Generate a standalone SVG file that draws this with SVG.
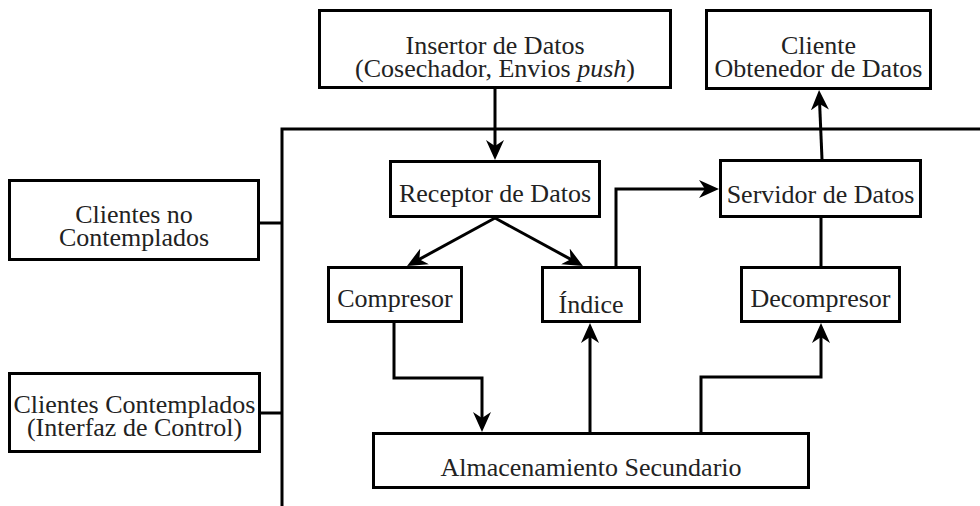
<svg xmlns="http://www.w3.org/2000/svg" width="980" height="506" viewBox="0 0 980 506">
  <style>
    .box { fill: #fff; stroke: #000; stroke-width: 3; }
    .lbl { font-family: "Liberation Serif", "Times New Roman", serif; font-size: 26px; fill: #222; text-anchor: middle; }
    .wire { fill: none; stroke: #000; stroke-width: 3; }
    .arrow { marker-end: url(#head); }
  </style>
  <defs>
    <marker id="head" markerUnits="userSpaceOnUse" markerWidth="20" markerHeight="20" viewBox="0 0 20 20" refX="14" refY="10" orient="auto">
      <path d="M20,10 L0,1 L6,10 L0,19 Z" fill="#000"/>
    </marker>
  </defs>

  <rect width="980" height="506" fill="#fff"/>

  <!-- connectors -->
  <g id="connectors">
    <!-- system boundary -->
    <path class="wire" d="M980,129 H282 V506"/>
    <path class="wire" d="M259,223 H282"/>
    <path class="wire" d="M261,413 H282"/>
    <path class="wire arrow" d="M495,89 V154"/>
    <path class="wire arrow" d="M495,218 L412.3,263.1"/>
    <path class="wire arrow" d="M495,218 L577.7,263.1"/>
    <path class="wire arrow" d="M616,266 V189 H713"/>
    <path class="wire arrow" d="M822,159 L819.3,96"/>
    <path class="wire" d="M821,218 V266"/>
    <path class="wire arrow" d="M394,323 V378 H482 V426"/>
    <path class="wire arrow" d="M590,432 V329"/>
    <path class="wire arrow" d="M701,432 V377 H821 V329"/>
  </g>

  <g id="insertor">
    <rect class="box" x="319.5" y="10.5" width="351" height="77"/>
    <text class="lbl" x="495" y="54">Insertor de Datos</text>
    <text class="lbl" x="495" y="77">(Cosechador, Envios <tspan font-style="italic">push</tspan>)</text>
  </g>

  <g id="cliente-obtenedor">
    <rect class="box" x="706.5" y="10.5" width="224" height="78"/>
    <text class="lbl" x="818.5" y="54">Cliente</text>
    <text class="lbl" x="818.5" y="77">Obtenedor de Datos</text>
  </g>

  <g id="clientes-no-contemplados">
    <rect class="box" x="9.5" y="180.5" width="249" height="79"/>
    <text class="lbl" x="134" y="223">Clientes no</text>
    <text class="lbl" x="134" y="246">Contemplados</text>
  </g>

  <g id="clientes-contemplados">
    <rect class="box" x="9.5" y="373.5" width="250" height="78"/>
    <text class="lbl" x="134.5" y="413">Clientes Contemplados</text>
    <text class="lbl" x="134.5" y="436">(Interfaz de Control)</text>
  </g>

  <g id="receptor">
    <rect class="box" x="390.5" y="161.5" width="209" height="55"/>
    <text class="lbl" x="495" y="202">Receptor de Datos</text>
  </g>

  <g id="servidor">
    <rect class="box" x="720.5" y="160.5" width="200" height="56"/>
    <text class="lbl" x="820.5" y="203">Servidor de Datos</text>
  </g>

  <g id="compresor">
    <rect class="box" x="328.5" y="267.5" width="133" height="54"/>
    <text class="lbl" x="395" y="307">Compresor</text>
  </g>

  <g id="indice">
    <rect class="box" x="542.5" y="267.5" width="97" height="54"/>
    <text class="lbl" x="591" y="313">Índice</text>
  </g>

  <g id="decompresor">
    <rect class="box" x="741.5" y="267.5" width="158" height="54"/>
    <text class="lbl" x="820.5" y="307">Decompresor</text>
  </g>

  <g id="almacenamiento">
    <rect class="box" x="373.5" y="433.5" width="435" height="54"/>
    <text class="lbl" x="591" y="476">Almacenamiento Secundario</text>
  </g>
</svg>
